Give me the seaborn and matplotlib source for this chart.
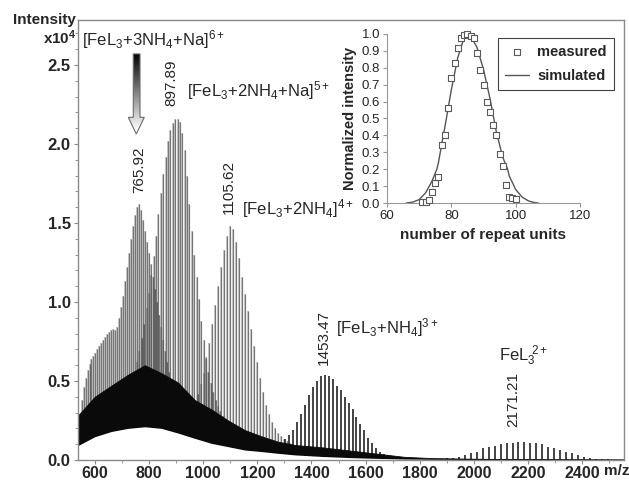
import numpy as np
import matplotlib
matplotlib.use('Agg')
import matplotlib.pyplot as plt
import seaborn as sns
from matplotlib.patches import Polygon
from matplotlib.ticker import MultipleLocator, FormatStrFormatter

# ---- spectrum peaks, one list per charge state (m/z, intensity x10^4) ----
mz_6 = [543.0, 550.3, 557.7, 565.0, 572.4, 579.7, 587.0, 594.4, 601.7, 609.1,
        616.4, 623.7, 631.1, 638.4, 645.8, 653.1, 660.4, 667.8, 675.1, 682.5,
        689.8, 697.1, 704.5, 711.8, 719.2, 726.5, 733.8, 741.2, 748.5, 755.9,
        763.2, 770.5, 777.9, 785.2, 792.6, 799.9, 807.2, 814.6, 821.9, 829.3,
        836.6, 843.9, 851.3, 858.6, 866.0, 873.3, 880.6, 888.0, 895.3, 902.7,
        910.0, 917.3, 924.7, 932.0, 939.4, 946.7, 954.0, 961.4, 968.7, 976.1]
int_6 = [0.28, 0.38, 0.46, 0.52, 0.57, 0.61, 0.64, 0.66, 0.68, 0.70,
         0.72, 0.74, 0.76, 0.78, 0.80, 0.81, 0.82, 0.83, 0.82, 0.84,
         0.90, 0.97, 1.04, 1.13, 1.22, 1.31, 1.40, 1.48, 1.55, 1.60,
         1.62, 1.58, 1.52, 1.45, 1.38, 1.31, 1.24, 1.16, 1.08, 1.00,
         0.92, 0.84, 0.76, 0.69, 0.62, 0.56, 0.50, 0.46, 0.42, 0.38,
         0.35, 0.32, 0.30, 0.28, 0.26, 0.24, 0.22, 0.21, 0.20, 0.19]

mz_5 = [685.0, 693.8, 702.6, 711.4, 720.2, 729.0, 737.8, 746.6, 755.4, 764.2,
        773.0, 781.8, 790.6, 799.4, 808.2, 817.0, 825.8, 834.6, 843.4, 852.2,
        861.0, 869.8, 878.6, 887.4, 896.2, 905.0, 913.8, 922.6, 931.4, 940.2,
        949.0, 957.8, 966.6, 975.4, 984.2, 993.0, 1001.8, 1010.6, 1019.4, 1028.2,
        1037.0, 1045.8, 1054.6, 1063.4, 1072.2, 1081.0, 1089.8, 1098.6, 1107.4, 1116.2,
        1125.0, 1133.8, 1142.6, 1151.4, 1160.2, 1169.0]
int_5 = [0.22, 0.25, 0.29, 0.33, 0.38, 0.43, 0.49, 0.55, 0.62, 0.69,
         0.77, 0.86, 0.96, 1.06, 1.17, 1.29, 1.42, 1.56, 1.69, 1.81,
         1.92, 2.02, 2.09, 2.13, 2.16, 2.16, 2.14, 2.07, 1.96, 1.80,
         1.62, 1.45, 1.30, 1.16, 1.02, 0.88, 0.76, 0.65, 0.56, 0.49,
         0.43, 0.38, 0.34, 0.31, 0.28, 0.25, 0.23, 0.21, 0.19, 0.17,
         0.15, 0.14, 0.13, 0.12, 0.11, 0.10]

mz_4 = [957, 968, 979, 990, 1001, 1012, 1023, 1034, 1045, 1056,
        1067, 1078, 1089, 1100, 1111, 1122, 1133, 1144, 1155, 1166,
        1177, 1188, 1199, 1210, 1221, 1232, 1243, 1254, 1265, 1276,
        1287, 1298, 1309, 1320, 1331, 1342]
int_4 = [0.30, 0.36, 0.42, 0.48, 0.55, 0.64, 0.74, 0.86, 0.98, 1.10,
         1.22, 1.33, 1.42, 1.48, 1.46, 1.38, 1.28, 1.16, 1.05, 0.94,
         0.83, 0.72, 0.62, 0.52, 0.43, 0.35, 0.29, 0.24, 0.20, 0.17,
         0.15, 0.13, 0.12, 0.11, 0.10, 0.09]

mz_3 = [1258.0, 1272.7, 1287.4, 1302.0, 1316.7, 1331.4, 1346.1, 1360.8, 1375.4, 1390.1,
        1404.8, 1419.5, 1434.2, 1448.8, 1463.5, 1478.2, 1492.9, 1507.6, 1522.2, 1536.9,
        1551.6, 1566.3, 1581.0, 1595.6, 1610.3, 1625.0, 1639.7, 1654.4, 1669.0, 1683.7,
        1698.4, 1713.1, 1727.8, 1742.4, 1757.1, 1771.8]
int_3 = [0.06, 0.08, 0.10, 0.13, 0.16, 0.19, 0.24, 0.29, 0.35, 0.41,
         0.46, 0.50, 0.53, 0.54, 0.53, 0.51, 0.47, 0.44, 0.40, 0.36,
         0.32, 0.27, 0.23, 0.19, 0.14, 0.107, 0.076, 0.053, 0.04, 0.03,
         0.02, 0.015, 0.012, 0.01, 0.008, 0.006]

mz_2 = [1857, 1879, 1901, 1923, 1945, 1967, 1989, 2011, 2033, 2055,
        2077, 2099, 2121, 2143, 2165, 2187, 2209, 2231, 2253, 2275,
        2297, 2319, 2341, 2363, 2385, 2407, 2429, 2451, 2473, 2495, 2517]
int_2 = [0.004, 0.006, 0.01, 0.015, 0.021, 0.031, 0.042, 0.053, 0.074, 0.084,
         0.089, 0.101, 0.105, 0.11, 0.114, 0.114, 0.11, 0.105, 0.099, 0.084,
         0.074, 0.063, 0.053, 0.042, 0.031, 0.021, 0.01, 0.008, 0.006, 0.004, 0.003]

# unresolved background (dense black band) and its lower edge
bg_mz = [536, 599, 660, 722, 784, 845, 907, 968, 1030, 1092, 1153, 1215,
         1276, 1338, 1440, 1541, 1642, 1743, 1844, 1996, 2198, 2555]
bg_top = [0.28, 0.40, 0.47, 0.54, 0.60, 0.55, 0.49, 0.38, 0.32, 0.25, 0.19, 0.15,
          0.116, 0.095, 0.08, 0.06, 0.04, 0.02, 0.012, 0.008, 0.005, 0.003]
bg_low = [0.09, 0.147, 0.18, 0.20, 0.21, 0.20, 0.17, 0.137, 0.105, 0.084, 0.063, 0.053,
          0.042, 0.032, 0.022, 0.015, 0.01, 0.006, 0.004, 0.003, 0.002, 0.002]

# peak annotations
peak_labels = ['765.92', '897.89', '1105.62', '1453.47', '2171.21']
peak_label_x = [765, 883, 1093, 1444, 2144]
peak_label_y = [1.84, 2.39, 1.73, 0.775, 0.38]
species = [r'$\mathregular{[FeL_3{+}3NH_4{+}Na]^{6+}}$',
           r'$\mathregular{[FeL_3{+}2NH_4{+}Na]^{5+}}$',
           r'$\mathregular{[FeL_3{+}2NH_4]^{4+}}$',
           r'$\mathregular{[FeL_3{+}NH_4]^{3+}}$',
           r'$\mathregular{FeL_3^{\ 2+}}$']
species_x = [552, 940, 1142, 1490, 2094]
species_y = [2.66, 2.34, 1.59, 0.84, 0.66]

# ---- inset: repeat unit distribution ----
meas_n = [71, 72, 73, 74, 75, 76, 77, 78, 79, 80, 81, 82, 83, 84, 85,
          86, 87, 88, 89, 90, 91, 92, 93, 94, 95, 96, 97, 98, 99, 100]
meas_i = [0.005, 0.006, 0.02, 0.065, 0.12, 0.155, 0.345, 0.405, 0.56, 0.74,
          0.83, 0.915, 0.975, 0.995, 1.0, 0.99, 0.975, 0.89, 0.785, 0.70,
          0.595, 0.54, 0.46, 0.405, 0.29, 0.22, 0.105, 0.035, 0.03, 0.025]
sim_n = [66, 68, 70, 72, 74, 75.5, 76, 77.5, 78, 80, 82, 84, 85, 86, 88,
         90, 92, 94, 96, 97.5, 98, 100, 102, 104, 106, 107]
sim_i = [0.0, 0.005, 0.02, 0.06, 0.13, 0.2, 0.24, 0.4, 0.45, 0.67, 0.86, 0.98, 1.0,
         0.99, 0.92, 0.79, 0.62, 0.42, 0.27, 0.2, 0.16, 0.08, 0.035, 0.012, 0.002, 0.0]

sns.set_style('ticks')
plt.rcParams['font.family'] = ['Liberation Sans', 'DejaVu Sans']
plt.rcParams['mathtext.fontset'] = 'custom'
plt.rcParams['mathtext.rm'] = 'Liberation Sans'
plt.rcParams['mathtext.bf'] = 'Liberation Sans:bold'
plt.rcParams['mathtext.it'] = 'Liberation Sans:italic'

fig = plt.figure(figsize=(6.29, 4.8), dpi=100)
ax = fig.add_axes([0.1235, 0.0417, 0.8686, 0.9167])

spine_col = '#8a8a8a'

# peaks: grey body with a dark core line
for mz, it in [(mz_6, int_6), (mz_5, int_5), (mz_4, int_4)]:
    ax.vlines(mz, 0, it, color='#8e8e8e', lw=0.9, zorder=2)
    ax.vlines(mz, 0, it, color='#1a1a1a', lw=0.3, zorder=2.1)
ax.vlines(mz_3, 0, int_3, color='#111111', lw=1.1, zorder=2)
ax.vlines(mz_2, 0, int_2, color='#111111', lw=1.1, zorder=2)
ax.fill_between(bg_mz, bg_low, bg_top, color='#0a0a0a', lw=0.6, zorder=2.4)
ax.fill_between(bg_mz, -0.01, bg_low, color='white', lw=0, zorder=3)

for t, x, y in zip(peak_labels, peak_label_x, peak_label_y):
    ax.text(x, y, t, rotation=90, ha='center', va='center', fontsize=11)
for t, x, y in zip(species, species_x, species_y):
    ax.text(x, y, t, ha='left', va='center', fontsize=12)

# gradient arrow
arr_x = [741.5, 766.3, 766.3, 782.2, 752.6, 723.0, 741.5]
arr_y = [2.57, 2.57, 2.169, 2.169, 2.063, 2.169, 2.169]
arrow = Polygon(np.column_stack([arr_x, arr_y]), closed=True, facecolor='none',
                edgecolor='#6a6a6a', lw=0.8, zorder=5)
ax.add_patch(arrow)
grad = np.linspace(0, 1, 256).reshape(-1, 1)
img = ax.imshow(grad, cmap='gray', vmin=0, vmax=0.95, aspect='auto',
                extent=[723, 782.2, 2.063, 2.57], origin='upper', zorder=4)
img.set_clip_path(arrow)

ax.set_xlim(536, 2555)
ax.set_ylim(0, 2.785)
xt = [600, 800, 1000, 1200, 1400, 1600, 1800, 2000, 2200, 2400]
ax.set_xticks(xt)
ax.set_xticklabels([str(v) for v in xt])
ax.xaxis.set_minor_locator(MultipleLocator(100))
ax.yaxis.set_major_locator(MultipleLocator(0.5))
ax.yaxis.set_minor_locator(MultipleLocator(0.1))
ax.yaxis.set_major_formatter(FormatStrFormatter('%.1f'))
for lab in ax.get_xticklabels() + ax.get_yticklabels():
    lab.set_fontweight('bold')
ax.tick_params(which='major', length=3, width=0.8, color=spine_col, pad=2)
ax.tick_params(axis='y', labelsize=12)
ax.tick_params(axis='x', labelsize=11.5, pad=1)
ax.tick_params(which='minor', length=2, width=0.6, color=spine_col)
for s in ax.spines.values():
    s.set_color(spine_col)
    s.set_linewidth(1.0)
    s.set_zorder(6)

ax.annotate('m/z', xy=(2528, 0), xycoords=('data', 'axes fraction'),
            xytext=(0, -3), textcoords='offset points', ha='center', va='top',
            fontsize=11, fontweight='bold')
fig.text(76 / 629, 1 - 20 / 480, 'Intensity', ha='right', va='center',
         fontsize=11, fontweight='bold')
fig.text(76 / 629, 1 - 38 / 480, r'x10$^{\mathbf{4}}$', ha='right', va='center',
         fontsize=11, fontweight='bold')

# inset
axi = fig.add_axes([387 / 629, 1 - 203 / 480, 193 / 629, 169 / 480])
axi.set_facecolor('none')
sns.lineplot(x=sim_n, y=sim_i, color='#555555', lw=1.0, label='simulated', ax=axi)
sns.scatterplot(x=meas_n, y=meas_i, marker='s', s=16, facecolor='white',
                edgecolor='#5a5a5a', linewidth=0.8, label='measured', ax=axi,
                clip_on=False, zorder=3)
axi.set_xlim(60, 120)
axi.set_ylim(0, 1.0)
axi.set_xticks([60, 80, 100, 120])
axi.yaxis.set_major_locator(MultipleLocator(0.1))
axi.yaxis.set_major_formatter(FormatStrFormatter('%.1f'))
axi.tick_params(length=3, width=0.8, color='#999999', labelsize=9.5, pad=2)
sns.despine(ax=axi)
for s in axi.spines.values():
    s.set_color('#999999')
axi.set_xlabel('number of repeat units', fontsize=11, fontweight='bold', labelpad=4)
axi.set_ylabel('Normalized intensity', fontsize=10.5, fontweight='bold', labelpad=3)
h, l = axi.get_legend_handles_labels()
order = [l.index('measured'), l.index('simulated')]
leg = axi.legend([h[i] for i in order], [l[i] for i in order],
                 loc='upper left', bbox_to_anchor=(498 / 629, 1 - 37.7 / 480),
                 bbox_transform=fig.transFigure, borderaxespad=0, fancybox=False,
                 edgecolor='#444444', framealpha=1, handlelength=1.6,
                 handletextpad=0.6, prop={'weight': 'bold', 'size': 10.5},
                 labelspacing=0.7, borderpad=0.5)
leg.get_frame().set_linewidth(0.8)

fig.savefig('out.png', dpi=100)
